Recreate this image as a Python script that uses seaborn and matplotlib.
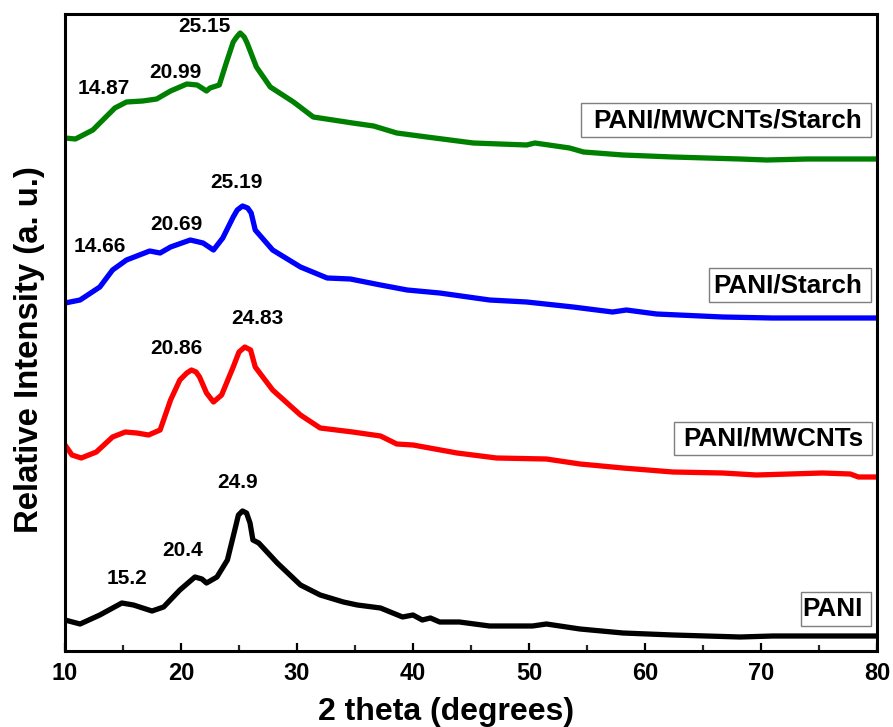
import numpy as np
import pandas as pd
import matplotlib
matplotlib.use("Agg")
import matplotlib.pyplot as plt
from matplotlib.patches import Rectangle
import seaborn as sns

# XRD patterns (2 theta in degrees, relative intensity with vertical stacking offsets)
pani_x = [10.0, 11.3, 13.0, 14.9, 15.9, 17.5, 18.5, 19.9, 21.2, 21.8, 22.2, 23.1, 24.0, 24.7,
          24.95, 25.3, 25.65, 25.95, 26.2, 26.7, 28.3, 30.3, 32.0, 34.0, 35.2, 37.2, 39.1, 40.0,
          40.8, 41.5, 42.3, 44.0, 46.6, 50.3, 51.5, 54.4, 58.1, 62.4, 68.2, 71.0, 78.4, 80.0]
pani_y = [31, 27, 36, 48, 46, 40, 44, 61, 74, 72, 68, 74, 91, 124,
          136, 140, 138, 128, 111, 108, 88, 66, 56, 49, 46, 43, 34, 36,
          31, 33, 29, 29, 25, 25, 27, 22, 18, 16, 14, 15, 15, 15]

mwcnt_x = [10.0, 10.6, 11.4, 12.7, 14.1, 15.2, 16.2, 17.2, 18.2, 19.1, 19.9, 20.5, 20.9, 21.3,
           21.6, 22.2, 22.8, 23.5, 24.5, 25.0, 25.5, 26.0, 26.4, 27.9, 30.3, 32.0, 34.8, 37.2,
           38.6, 40.0, 43.8, 47.2, 51.5, 54.4, 58.1, 62.4, 66.7, 69.6, 75.3, 77.7, 78.4, 80.0]
mwcnt_y = [206, 196, 193, 199, 214, 219, 218, 216, 221, 251, 271, 278, 281, 279,
           274, 258, 249, 256, 284, 299, 304, 301, 284, 261, 236, 223, 219, 215,
           207, 206, 198, 193, 192, 187, 183, 179, 178, 176, 178, 177, 174, 174]

starch_x = [10.0, 11.3, 13.0, 14.1, 15.3, 17.3, 18.2, 19.1, 20.8, 21.9, 22.8, 23.6, 24.5, 24.85,
            25.3, 25.75, 26.05, 26.4, 27.9, 30.3, 32.6, 34.6, 37.2, 39.5, 42.3, 46.6, 49.8, 53.8,
            57.2, 58.4, 61.0, 66.7, 71.0, 78.4, 80.0]
starch_y = [348, 351, 364, 381, 391, 400, 398, 404, 411, 408, 401, 413, 434, 441,
            445, 443, 438, 421, 401, 384, 373, 372, 366, 361, 358, 351, 349, 344,
            339, 341, 337, 334, 333, 333, 333]

ternary_x = [10.0, 10.9, 12.4, 14.3, 15.3, 16.7, 17.9, 19.1, 20.5, 21.4, 22.2, 22.5, 23.3, 23.9,
             24.5, 24.8, 25.1, 25.45, 25.7, 26.5, 27.7, 29.7, 31.4, 33.1, 34.8, 36.6, 38.6, 41.2,
             45.2, 49.8, 50.5, 53.5, 54.7, 58.1, 62.4, 68.2, 70.5, 74.0, 78.4, 80.0]
ternary_y = [513, 512, 521, 543, 549, 550, 552, 560, 567, 566, 560, 563, 566, 588,
             609, 614, 618, 614, 608, 584, 564, 549, 534, 531, 528, 525, 518, 514,
             508, 506, 508, 503, 499, 496, 494, 492, 491, 492, 492, 492]

samples = ["PANI", "PANI/MWCNTs", "PANI/Starch", "PANI/MWCNTs/Starch"]
colors = ["#000000", "#FF0000", "#0000FF", "#008000"]

# Peak positions annotated on each pattern: (text, x, y)
peak_labels = [
    ("15.2", 15.35, 73), ("20.4", 20.1, 100), ("24.9", 24.9, 169),
    ("20.86", 19.6, 302), ("24.83", 26.6, 333),
    ("14.66", 13.0, 404), ("20.69", 19.6, 427), ("25.19", 24.8, 468),
    ("14.87", 13.3, 562), ("20.99", 19.5, 579), ("25.15", 22.0, 624),
]
# Sample name boxes at the right end of each pattern: (x0, x1, y0, y1) in axes fraction
name_boxes = [
    (0.907, 0.993, 0.039, 0.092),
    (0.750, 0.994, 0.308, 0.360),
    (0.793, 0.993, 0.548, 0.601),
    (0.635, 0.993, 0.807, 0.860),
]

frames = []
for name, xs, ys in zip(samples,
                        [pani_x, mwcnt_x, starch_x, ternary_x],
                        [pani_y, mwcnt_y, starch_y, ternary_y]):
    frames.append(pd.DataFrame({"theta": xs, "intensity": ys, "sample": name}))
df = pd.concat(frames, ignore_index=True)

sns.set_theme(style="white")
plt.rcParams["font.family"] = ["Liberation Sans", "DejaVu Sans"]
plt.rcParams["font.weight"] = "bold"

fig = plt.figure(figsize=(8.93, 7.27), dpi=100)
ax = fig.add_axes([65 / 893, 76 / 727, 812 / 893, 637 / 727])

sns.lineplot(data=df, x="theta", y="intensity", hue="sample", hue_order=samples,
             palette=colors, sort=False, estimator=None, linewidth=3.8,
             legend=False, ax=ax, solid_joinstyle="round", solid_capstyle="round")

for txt, x, y in peak_labels:
    ax.text(x, y, txt, ha="center", va="center", fontsize=15, fontweight="bold",
            color="black")

for name, (x0, x1, y0, y1) in zip(samples, name_boxes):
    ax.add_patch(Rectangle((x0, y0), x1 - x0, y1 - y0, transform=ax.transAxes,
                           facecolor="white", edgecolor="#7f7f7f", linewidth=1.0,
                           zorder=3))
    ax.text(x1 - 0.011, (y0 + y1) / 2, name, transform=ax.transAxes,
            ha="right", va="center", fontsize=18.8, fontweight="bold",
            color="black", zorder=4)

ax.set_xlim(10, 80)
ax.set_ylim(0, 637)
ax.set_xticks(np.arange(10, 81, 10))
ax.set_xticks(np.arange(15, 80, 10), minor=True)
ax.set_yticks([])
ax.tick_params(axis="x", which="major", direction="in", length=6, width=1.6,
               labelsize=17, pad=8, colors="black", bottom=True, top=False)
ax.tick_params(axis="x", which="minor", direction="in", length=4, width=1.6,
               bottom=True, top=False)
for lbl in ax.get_xticklabels():
    lbl.set_fontweight("bold")

for side in ["left", "right", "top", "bottom"]:
    ax.spines[side].set_visible(True)
    ax.spines[side].set_color("black")
    ax.spines[side].set_linewidth(2.2)

ax.set_xlabel("2 theta (degrees)", fontsize=23, fontweight="bold", color="black")
ax.set_ylabel("Relative Intensity (a. u.)", fontsize=23.7, fontweight="bold", color="black")
ax.xaxis.set_label_coords((446 - 65) / 812, -(712 - 651) / 637)
ax.xaxis.label.set_va("center")
ax.yaxis.set_label_coords(-(65 - 30) / 812, (651 - 350) / 637)
ax.yaxis.label.set_va("center")

fig.savefig("out.png", dpi=100, facecolor="white")
